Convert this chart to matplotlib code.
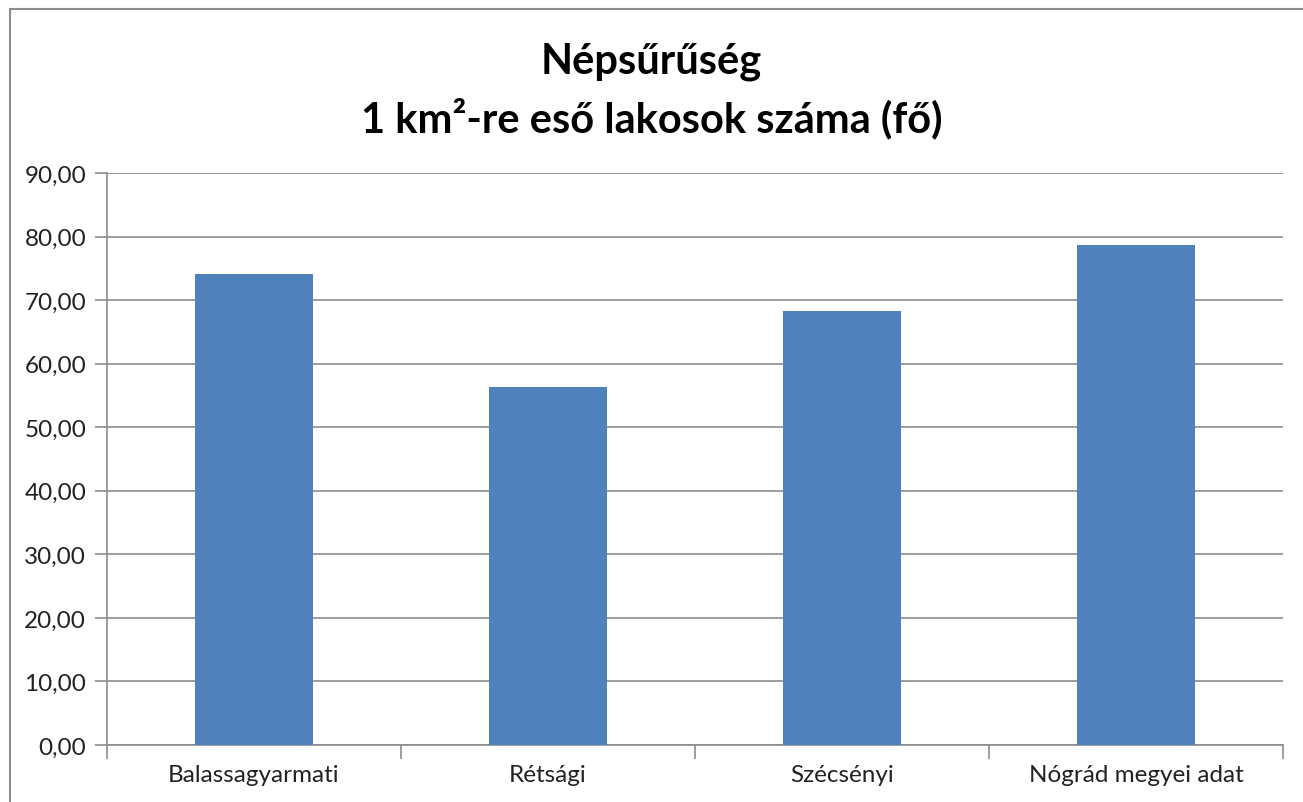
import matplotlib.pyplot as plt
import numpy as np
from matplotlib.patches import Rectangle

# -- data --
categories = ['Balassagyarmati', 'Rétsági', 'Szécsényi', 'Nógrád megyei adat']
density = [74.15, 56.35, 68.3, 78.75]
yticks = np.arange(0, 91, 10)

plt.rcParams['font.family'] = ['Lato', 'DejaVu Sans']

fig = plt.figure(figsize=(13.03, 8.03), dpi=100)
ax = fig.add_axes([107/1303, 1 - 746/803, (1283-107)/1303, (746-174)/803])

x = np.arange(len(categories))
ax.bar(x, density, width=0.4, color='#4F81BD', zorder=3)

ax.set_xlim(-0.5, len(categories) - 0.5)
ax.set_ylim(0, 90)
ax.set_yticks(yticks)
ax.set_yticklabels([f'{v:.2f}'.replace('.', ',') for v in yticks], fontsize=17.5, color='#222222')
ax.yaxis.grid(True, color='#8c8c8c', linewidth=1.2, zorder=0)

# category labels between boundary ticks
ax.set_xticks(x)
ax.set_xticklabels(categories, fontsize=17.5, color='#222222')
ax.tick_params(axis='x', length=0, pad=14)
ax.set_xticks(np.arange(-0.5, len(categories)), minor=True)
ax.tick_params(axis='x', which='minor', length=10, color='#8c8c8c', width=1.2)
ax.tick_params(axis='y', length=9, color='#8c8c8c', width=1.2, pad=6)

for side in ['top', 'right']:
    ax.spines[side].set_visible(False)
for side in ['left', 'bottom']:
    ax.spines[side].set_color('#8c8c8c')
    ax.spines[side].set_linewidth(1.2)

fig.text(0.5, 1 - 62/803, 'Népsűrűség', ha='center', va='center',
         fontsize=30, fontweight='bold')
fig.text(0.5, 1 - 118/803, '1 km²-re eső lakosok száma (fő)', ha='center', va='center',
         fontsize=30, fontweight='bold')

# outer chart border
fig.patches.append(Rectangle((10/1303, -0.01), 1, 1 - 10/803 + 0.01, transform=fig.transFigure,
                             fill=False, edgecolor='#8c8c8c', linewidth=1.5))

fig.savefig('out.png', dpi=100)
